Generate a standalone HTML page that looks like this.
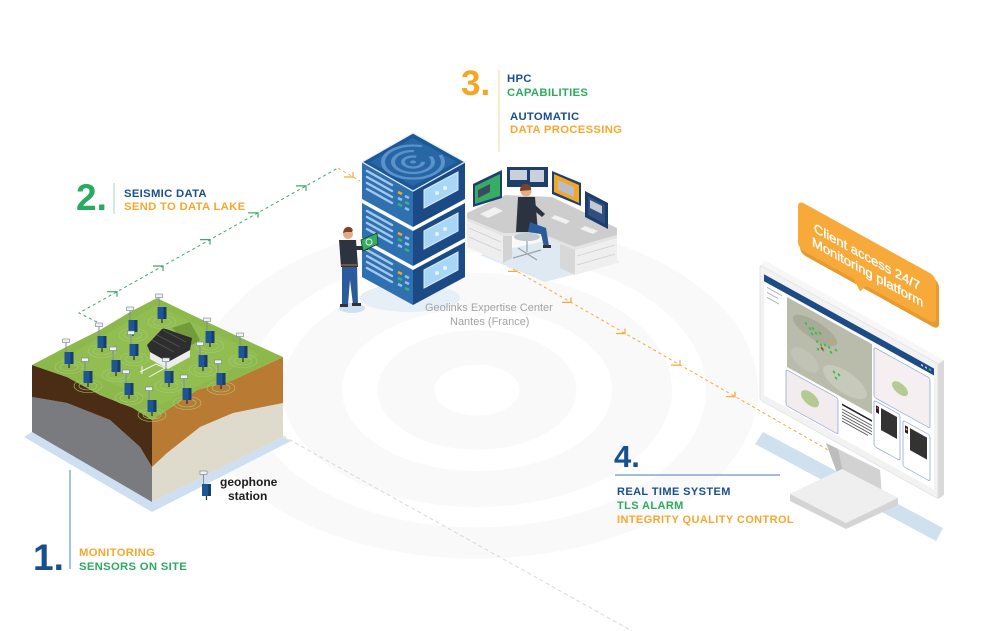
<!DOCTYPE html>
<html><head><meta charset="utf-8">
<style>
html,body{margin:0;padding:0;background:#fff;}
svg{display:block;}
text{font-family:"Liberation Sans",sans-serif;}
</style></head><body>
<svg width="1000" height="631" viewBox="0 0 1000 631" xmlns="http://www.w3.org/2000/svg">
<defs>
<g id="st0">
  <line x1="1.5" y1="-10" x2="1.5" y2="1" stroke="#7d8fa0" stroke-width="1"/>
  <rect x="-2" y="-13" width="7" height="3.5" fill="#eef2f6" stroke="#6f8192" stroke-width="0.6"/>
  <rect x="0" y="0" width="9" height="12" fill="#1f5595"/>
  <rect x="6" y="0" width="3" height="12" fill="#153d6d"/>
  <line x1="4.5" y1="12" x2="4.5" y2="16" stroke="#2b2b2b" stroke-width="1.2"/>
</g>
<g id="st">
  <ellipse cx="4.5" cy="15" rx="14" ry="6.5" fill="none" stroke="#a9cb78" stroke-width="0.6"/>
  <ellipse cx="4.5" cy="15" rx="9" ry="4" fill="none" stroke="#a9cb78" stroke-width="0.6"/>
  <use href="#st0"/>
</g>
</defs>

<!-- background rings -->
<g transform="translate(477,390) scale(1,0.6)" fill="none" stroke="#f9f9f9">
  <circle r="71" stroke-width="57"/>
  <circle r="165" stroke-width="60"/>
  <circle r="255" stroke-width="52"/>
</g>

<!-- gray dashed line -->
<line x1="283" y1="436" x2="632" y2="631" stroke="#d9d9d9" stroke-width="1" stroke-dasharray="4 3"/>

<!-- green dashed line -->
<polyline points="97,322 79,313 338,168" fill="none" stroke="#3aa86c" stroke-width="1" stroke-dasharray="3 3"/>
<g fill="none" stroke="#3aa86c" stroke-width="1.2">
  <path d="M107 291.7 L117 291.7 L117 296.7"/>
  <path d="M153 266 L163 266 L163 271"/>
  <path d="M200 239.6 L210 239.6 L210 244.6"/>
  <path d="M248 212.8 L258 212.8 L258 217.8"/>
  <path d="M296 185.9 L306 185.9 L306 190.9"/>
</g>
<!-- orange dashed lines -->
<line x1="338" y1="168" x2="360" y2="181" stroke="#f5a83a" stroke-width="1" stroke-dasharray="3 3"/>
<path d="M353 172 L353 177 L344 177" fill="none" stroke="#f5a83a" stroke-width="1.2"/>
<line x1="492" y1="257" x2="830" y2="451" stroke="#f5a83a" stroke-width="1" stroke-dasharray="3 3"/>
<g fill="none" stroke="#f5a83a" stroke-width="1.2">
  <path d="M517 266.4 L517 271.4 L508 271.4"/>
  <path d="M571 297.4 L571 302.4 L562 302.4"/>
  <path d="M625 328.5 L625 333.5 L616 333.5"/>
  <path d="M680 360.1 L680 365.1 L671 365.1"/>
  <path d="M735 391.7 L735 396.7 L726 396.7"/>
</g>

<!-- ===== GROUND BLOCK ===== -->
<polygon points="32,432 152,502 283,437 291,441 152,512 24,437" fill="#cddff0"/>
<polygon points="32,397 67,403 110,420 140,447 152,467 152,502 32,432" fill="#7a7b7e"/>
<polygon points="32,365 67,377 100,395 133,408 152,420 152,467 140,447 110,420 67,403 32,397" fill="#4b2c15"/>
<polygon points="152,467 167,453 200,427 233,413 283,403 283,437 152,502" fill="#dedbcd"/>
<polygon points="152,420 197,390 233,380 283,357 283,403 233,413 200,427 167,453 152,467" fill="#b97b34"/>
<polygon points="32,365 70,345 100,330 130,312 157,298 190,314 220,328 250,342 283,357 233,380 197,390 152,420 133,408 100,395 67,377" fill="#8db84c"/>
<polygon points="60,360 157,305 260,355 160,405" fill="#95bf55" opacity="0.6"/>
<!-- house -->
<polygon points="172,328 190,322 200,340 190,346" fill="#729c3c"/>
<polygon points="150,352 168,362 190,350 190,357 168,369 150,359" fill="#ececec"/>
<polygon points="147,345 163,328 192,338 190,350 168,362 150,352" fill="#2e2e2e"/>
<g stroke="#555" stroke-width="0.8">
  <line x1="152" y1="340" x2="174" y2="352"/>
  <line x1="157" y1="335" x2="180" y2="347"/>
  <line x1="163" y1="330" x2="186" y2="342"/>
</g>
<g stroke="#f4f4f4" stroke-width="1" fill="none">
  <polyline points="140,372 156,364 165,368 149,377"/>
  <line x1="142" y1="366" x2="142" y2="374"/>
</g>
<!-- stations -->
<use href="#st" x="157.5" y="307"/>
<use href="#st" x="128.5" y="320"/>
<use href="#st" x="97.5" y="336"/>
<use href="#st" x="64.5" y="352"/>
<use href="#st" x="129.5" y="344"/>
<use href="#st" x="111.5" y="360"/>
<use href="#st" x="83.5" y="371"/>
<use href="#st" x="205.5" y="331"/>
<use href="#st" x="238.5" y="346"/>
<use href="#st" x="198.5" y="355"/>
<use href="#st" x="216.5" y="373"/>
<use href="#st" x="164.5" y="371"/>
<use href="#st" x="124.5" y="383"/>
<use href="#st" x="182.5" y="388"/>
<use href="#st" x="147.5" y="400"/>
<!-- legend station -->
<use href="#st0" x="202" y="484"/>
<text x="220" y="486" font-size="12" font-weight="bold" fill="#1c1c1c">geophone</text>
<text x="228" y="500" font-size="12" font-weight="bold" fill="#1c1c1c">station</text>

<!-- ===== SERVER ===== -->
<ellipse cx="410" cy="298" rx="50" ry="14" fill="#e6eef6"/>
<g>
  <polygon points="362,242 413,270 413,305 362,277" fill="#2f70b0"/>
  <polygon points="413,270 465,242 465,277 413,305" fill="#1b4a84"/>
  <polygon points="362,203 413,231 413,266 362,238" fill="#2f70b0"/>
  <polygon points="413,231 465,203 465,238 413,266" fill="#1b4a84"/>
  <polygon points="362,162 413,190 413,227 362,199" fill="#2f70b0"/>
  <polygon points="413,190 465,162 465,199 413,227" fill="#1b4a84"/>
</g>
<g stroke="#a3c8ec" stroke-width="2.4" stroke-linecap="round">
  <line x1="367" y1="171" x2="392" y2="185"/><line x1="367" y1="177" x2="392" y2="191"/><line x1="367" y1="183" x2="392" y2="197"/><line x1="367" y1="189" x2="392" y2="203"/>
  <line x1="367" y1="211" x2="392" y2="225"/><line x1="367" y1="217" x2="392" y2="231"/><line x1="367" y1="223" x2="392" y2="237"/><line x1="367" y1="229" x2="392" y2="243"/>
  <line x1="367" y1="250" x2="392" y2="264"/><line x1="367" y1="256" x2="392" y2="270"/><line x1="367" y1="262" x2="392" y2="276"/><line x1="367" y1="268" x2="392" y2="282"/>
</g>
<g stroke-width="2.6">
  <line x1="398" y1="192" x2="402" y2="194" stroke="#f5a623"/><line x1="405" y1="196" x2="409" y2="198" stroke="#8ec0ee"/>
  <line x1="398" y1="198" x2="402" y2="200" stroke="#8ec0ee"/><line x1="405" y1="202" x2="409" y2="204" stroke="#3bb36b"/>
  <line x1="398" y1="204" x2="402" y2="206" stroke="#3bb36b"/><line x1="405" y1="208" x2="409" y2="210" stroke="#8ec0ee"/>
  <line x1="398" y1="233" x2="402" y2="235" stroke="#f5a623"/><line x1="405" y1="237" x2="409" y2="239" stroke="#8ec0ee"/>
  <line x1="398" y1="239" x2="402" y2="241" stroke="#3bb36b"/><line x1="405" y1="243" x2="409" y2="245" stroke="#8ec0ee"/>
  <line x1="398" y1="245" x2="402" y2="247" stroke="#8ec0ee"/><line x1="405" y1="249" x2="409" y2="251" stroke="#3bb36b"/>
  <line x1="398" y1="272" x2="402" y2="274" stroke="#f5a623"/><line x1="405" y1="276" x2="409" y2="278" stroke="#8ec0ee"/>
  <line x1="398" y1="278" x2="402" y2="280" stroke="#3bb36b"/><line x1="405" y1="282" x2="409" y2="284" stroke="#8ec0ee"/>
  <line x1="398" y1="284" x2="402" y2="286" stroke="#8ec0ee"/><line x1="405" y1="288" x2="409" y2="290" stroke="#3bb36b"/>
</g>
<g fill="#a8d6f6" stroke="#d9eefc" stroke-width="1">
  <polygon points="424,190 458,172 458,190 424,208"/>
  <polygon points="424,231 458,213 458,231 424,249"/>
  <polygon points="424,270 458,252 458,270 424,288"/>
</g>
<g fill="#e8f5fe">
  <circle cx="437" cy="193" r="2"/><circle cx="445" cy="188" r="2"/>
  <circle cx="437" cy="234" r="2"/><circle cx="445" cy="229" r="2"/>
  <circle cx="437" cy="273" r="2"/><circle cx="445" cy="268" r="2"/>
</g>
<g stroke="#ffffff" stroke-width="2.5" fill="none">
  <polyline points="362,201 413,229 465,201"/>
  <polyline points="362,240 413,268 465,240"/>
</g>
<polygon points="362,162 413,133 465,162 413,191" fill="#1c5796" stroke="#e6eef7" stroke-width="1.2"/>
<polygon points="370,162 413,138 457,162 413,186" fill="#2867a5"/>
<g transform="translate(413,162) scale(1,0.55)" fill="none" stroke="#5b92ca" stroke-width="4">
  <circle r="30" stroke-dasharray="150 25"/>
  <circle r="20" stroke-dasharray="95 20"/>
  <circle r="10" stroke-dasharray="50 12"/>
  <circle r="3" fill="#5b92ca" stroke="none"/>
</g>

<!-- standing person -->
<ellipse cx="352" cy="308" rx="13" ry="5" fill="#cfe0ef"/>
<polygon points="342,265 357,265 358,305 353,305 350,280 348,305 342,305" fill="#2a5c9b"/>
<rect x="340" y="304" width="8" height="3" fill="#333"/>
<rect x="352" y="303" width="9" height="3" fill="#333"/>
<polygon points="339,240 356,240 358,267 341,267" fill="#2c3440"/>
<rect x="341" y="264" width="16" height="2" fill="#7a5634"/>
<circle cx="348" cy="234" r="5" fill="#e7ac86"/>
<path d="M343 233 Q344 226 350 227 Q354 229 352 232 L346 232 Z" fill="#7a4526"/>
<polygon points="353,246 368,246 368,250 353,250" fill="#2c3440"/>
<polygon points="361,240 377,233 378,244 363,251" fill="#37ad62" stroke="#1e3a2a" stroke-width="0.8"/>
<circle cx="369" cy="242" r="3" fill="none" stroke="#e6f6ea" stroke-width="1"/>

<!-- desk -->
<polygon points="480,255 545,282 620,262 560,238" fill="#dfe9f2"/>
<polygon points="467,217 503,233 503,263 467,247" fill="#eeeeee"/>
<polygon points="503,233 512,229 512,258 503,263" fill="#d3d3d3"/>
<g stroke="#cfcfcf" stroke-width="0.8"><line x1="469" y1="228" x2="501" y2="242"/><line x1="469" y1="237" x2="501" y2="251"/></g>
<polygon points="560,240 575,247 575,275 560,268" fill="#d8d8d8"/>
<polygon points="575,247 617,235 617,263 575,275" fill="#efefef"/>
<g stroke="#cfcfcf" stroke-width="0.8"><line x1="577" y1="256" x2="615" y2="245"/><line x1="577" y1="265" x2="615" y2="254"/></g>
<polygon points="467,213 505,195 552,197 617,228 617,235 575,247 540,233 503,233 467,218" fill="#cdcdcd"/>
<polygon points="467,218 503,233 540,233 575,247 617,235 617,238 575,250 540,236 503,236 467,221" fill="#e4e4e4"/>
<g fill="#f1f1f1">
  <polygon points="480,214 495,207 503,211 488,218"/>
  <polygon points="555,215 570,221 566,224 551,218"/>
  <polygon points="585,226 598,231 593,234 580,229"/>
</g>
<polygon points="473,184 502,170 502,198 473,207" fill="#1f3f70"/>
<polygon points="475,186 500,174 500,196 475,204" fill="#36ad63"/>
<polygon points="478,190 490,184 490,192 478,198" fill="#3b4a5e"/>
<rect x="507" y="167" width="41" height="20" fill="#1e3f6e"/>
<rect x="510" y="170" width="17" height="10" fill="#c8d0d9"/>
<rect x="530" y="170" width="14" height="12" fill="#c8d0d9"/>
<polygon points="552,171 581,183 581,206 552,194" fill="#1f3f70"/>
<polygon points="554,174 579,185 579,203 554,192" fill="#f5a623"/>
<polygon points="558,180 574,187 574,197 558,190" fill="#b9bec6"/>
<polygon points="585,191 608,203 608,229 585,217" fill="#1d3c6a"/>
<polygon points="588,196 605,205 605,224 588,215" fill="#2e4f80"/>
<polygon points="590,200 602,206 602,214 590,208" fill="#c3c9d1"/>
<!-- seated person -->
<g stroke="#9aa2ab" stroke-width="1.2"><line x1="527" y1="240" x2="527" y2="252"/><line x1="513" y1="258" x2="541" y2="250"/><line x1="518" y1="248" x2="537" y2="260"/></g>
<ellipse cx="527" cy="237" rx="13" ry="4" fill="#c2c8cf"/>
<polygon points="518,197 535,197 538,232 516,232" fill="#2b3340"/>
<polygon points="530,222 546,228 549,246 544,247 541,234 528,232" fill="#2a5c9b"/>
<rect x="543" y="245" width="8" height="3" fill="#333"/>
<polygon points="533,203 545,214 542,217 531,208" fill="#2b3340"/>
<circle cx="526" cy="191" r="5.5" fill="#e7ac86"/>
<path d="M520 191 Q520 183 527 184 Q532 186 531 190 Z" fill="#7a4526"/>

<text x="425" y="311" font-size="11" fill="#a3a3a3">Geolinks Expertise Center</text>
<text x="450" y="325" font-size="11" fill="#a3a3a3">Nantes (France)</text>

<!-- ===== MONITOR ===== -->
<polygon points="763,432 943,528 936,541 755,444" fill="#cfe0ee"/>
<polygon points="826,443 880,470 882,497 840,481" fill="#d2d2d2"/>
<polygon points="826,443 838,449 846,485 840,481" fill="#bdbdbd"/>
<polygon points="790,494 842,469 898,498 898,505 846,529 790,501" fill="#d4d4d4"/>
<polygon points="790,494 842,469 898,498 846,523" fill="#efefef"/>
<polygon points="760,265 766,261 944,360 938,364" fill="#f7f7f7"/>
<polygon points="938,364 944,360 944,495 938,499" fill="#d9d9d9"/>
<g transform="translate(760,265) skewY(29)">
  <rect x="0" y="0" width="178" height="135" rx="2" fill="#f2f2f2" stroke="#e0e0e0" stroke-width="0.8"/>
  <rect x="4" y="7" width="170" height="121" fill="#ffffff"/>
  <rect x="4" y="7" width="170" height="7" fill="#1d4b86"/>
  <circle cx="162" cy="10.5" r="1" fill="#cfe0f5"/><circle cx="166" cy="10.5" r="1" fill="#cfe0f5"/><circle cx="170" cy="10.5" r="1.2" fill="#3bb36b"/>
  <g fill="#a7acb3"><rect x="7" y="18" width="15" height="1"/><rect x="7" y="23" width="11" height="1"/><rect x="7" y="28" width="12" height="1"/></g>
  <rect x="27" y="17" width="85" height="70" fill="#b9bbab"/>
  <ellipse cx="55" cy="35" rx="22" ry="10" fill="#a9ab98"/>
  <ellipse cx="85" cy="70" rx="22" ry="12" fill="#c7c9bb"/>
  <ellipse cx="45" cy="70" rx="14" ry="10" fill="#c1c3b4"/>
  <g fill="#33c24d">
    <circle cx="46" cy="33" r="1.3"/><circle cx="50" cy="36" r="1.3"/><circle cx="53" cy="34" r="1.3"/><circle cx="56" cy="37" r="1.3"/><circle cx="60" cy="35" r="1.3"/><circle cx="52" cy="40" r="1.3"/>
    <circle cx="57" cy="45" r="1.3"/><circle cx="61" cy="46" r="1.3"/><circle cx="65" cy="44" r="1.3"/><circle cx="69" cy="44" r="1.3"/><circle cx="76" cy="43" r="1.3"/>
    <circle cx="63" cy="50" r="1.3"/><circle cx="71" cy="48" r="1.3"/><circle cx="58" cy="52" r="1.3"/>
    <circle cx="74" cy="66" r="1.3"/><circle cx="79" cy="66" r="1.3"/><circle cx="76" cy="71" r="1.3"/>
  </g>
  <circle cx="62" cy="49" r="1.4" fill="#e0302c"/>
  <circle cx="72" cy="36" r="1.4" fill="#e8a030"/>
  <rect x="114" y="19" width="56" height="50" rx="2" fill="#f6eff2" stroke="#8fa9d3" stroke-width="0.8"/>
  <ellipse cx="140" cy="46" rx="8" ry="6" fill="#a5c27c" opacity="0.8"/>
  <rect x="114" y="72" width="26" height="46" rx="2" fill="#fff" stroke="#8fa9d3" stroke-width="0.8"/>
  <rect x="116" y="76" width="3" height="7" fill="#222"/><circle cx="117.5" cy="78" r="1" fill="#e0302c"/>
  <g fill="#333"><rect x="121" y="76" width="16" height="22"/></g>
  <rect x="143" y="76" width="27" height="46" rx="2" fill="#fff" stroke="#8fa9d3" stroke-width="0.8"/>
  <rect x="145" y="80" width="3" height="7" fill="#222"/><circle cx="146.5" cy="83" r="1" fill="#f0d020"/>
  <g fill="#333"><rect x="150" y="80" width="17" height="22"/></g>
  <rect x="26" y="90" width="52" height="36" rx="2" fill="#f3ecef" stroke="#8fa9d3" stroke-width="0.8"/>
  <ellipse cx="50" cy="106" rx="9" ry="7" fill="#a5c27c" opacity="0.8"/>
  <rect x="82" y="93" width="30" height="1.8" fill="#222"/>
  <g fill="#555"><rect x="82" y="98" width="30" height="1"/><rect x="82" y="101" width="30" height="1"/><rect x="82" y="104" width="30" height="1"/><rect x="82" y="107" width="30" height="1"/><rect x="82" y="110" width="26" height="1"/></g>
</g>

<!-- bubble -->
<g transform="translate(798,200) skewY(29)">
  <rect x="2" y="3" width="139" height="49" rx="6" fill="#e79a2e"/>
  <rect x="0" y="0" width="138" height="48" rx="6" fill="#f7aa3a"/>
  <polygon points="55,47 69,47 62,57" fill="#f7aa3a"/>
  <text x="16" y="23" font-size="13" fill="#ffffff" stroke="#ffffff" stroke-width="0.35">Client access 24/7</text>
  <text x="14" y="38" font-size="13" fill="#ffffff" stroke="#ffffff" stroke-width="0.35">Monitoring platform</text>
</g>

<!-- ===== LABELS ===== -->
<text x="461" y="95" font-size="35" font-weight="bold" fill="#f5a623">3.</text>
<line x1="499" y1="70" x2="499" y2="152" stroke="#fbe2bb" stroke-width="1.5"/>
<g font-size="11.3" font-weight="bold" letter-spacing="0.3">
  <text x="507" y="82" fill="#184f8c">HPC</text>
  <text x="507" y="96" fill="#2eaa62">CAPABILITIES</text>
  <text x="510" y="120" fill="#184f8c">AUTOMATIC</text>
  <text x="510" y="133" fill="#f6a82e">DATA PROCESSING</text>
</g>
<text x="76" y="210" font-size="37" font-weight="bold" fill="#2aa960">2.</text>
<line x1="114" y1="183" x2="114" y2="214" stroke="#c3e6d0" stroke-width="1.5"/>
<g font-size="11.3" font-weight="bold" letter-spacing="0.3">
  <text x="124" y="197" fill="#184f8c">SEISMIC DATA</text>
  <text x="124" y="210" fill="#f6a82e">SEND TO DATA LAKE</text>
</g>
<text x="33" y="570" font-size="37" font-weight="bold" fill="#17508e">1.</text>
<line x1="70" y1="470" x2="70" y2="569" stroke="#6a95c8" stroke-width="1.2"/>
<g font-size="11.3" font-weight="bold" letter-spacing="0.3">
  <text x="79" y="556" fill="#f6a82e">MONITORING</text>
  <text x="79" y="570" fill="#2eaa62">SENSORS ON SITE</text>
</g>
<text x="614" y="467" font-size="31" font-weight="bold" fill="#17508e">4.</text>
<line x1="615" y1="475" x2="780" y2="475" stroke="#6a95c8" stroke-width="1.2"/>
<g font-size="11" font-weight="bold" letter-spacing="0.4">
  <text x="617" y="495" fill="#184f8c">REAL TIME SYSTEM</text>
  <text x="617" y="509" fill="#2eaa62">TLS ALARM</text>
  <text x="617" y="523" fill="#f6a82e">INTEGRITY QUALITY CONTROL</text>
</g>
</svg>
</body></html>
